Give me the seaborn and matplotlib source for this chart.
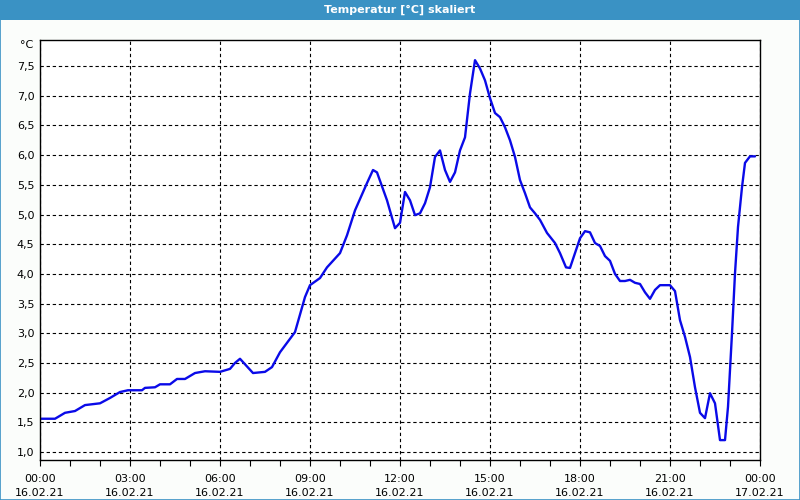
import matplotlib
matplotlib.use("Agg")
import matplotlib.pyplot as plt
import matplotlib.patches as mpatches
import matplotlib.ticker as mticker
import seaborn as sns
import pandas as pd
import numpy as np

# --- data ---
minutes = [0, 30, 50, 70, 90, 120, 140, 160, 176, 204, 210, 230, 240, 260, 274, 290,
           310, 330, 360, 380, 390, 400, 426, 450, 464, 480, 510, 530, 540, 560, 574,
           600, 614, 630, 654, 666, 674, 694, 710, 720, 730, 740, 750, 760, 770, 780,
           790, 800, 810, 820, 830, 840, 850, 860, 870, 880, 890, 900, 910, 920, 930,
           940, 950, 960, 970, 980, 990, 1000, 1014, 1030, 1040, 1052, 1060, 1070,
           1080, 1090, 1100, 1110, 1120, 1130, 1140, 1150, 1160, 1170, 1180, 1190,
           1200, 1210, 1220, 1230, 1240, 1260, 1270, 1280, 1290, 1300, 1310, 1320,
           1330, 1340, 1350, 1360, 1370, 1376, 1384, 1390, 1396, 1404, 1410, 1420, 1430]
temps = [1.56, 1.56, 1.66, 1.69, 1.79, 1.82, 1.91, 2.01, 2.04, 2.04, 2.08, 2.09, 2.14,
         2.14, 2.23, 2.23, 2.33, 2.36, 2.35, 2.40, 2.50, 2.57, 2.33, 2.35, 2.43, 2.68,
         3.02, 3.61, 3.81, 3.93, 4.11, 4.35, 4.65, 5.07, 5.53, 5.75, 5.71, 5.24, 4.77,
         4.86, 5.38, 5.24, 4.99, 5.02, 5.19, 5.46, 5.97, 6.08, 5.75, 5.55, 5.71, 6.08,
         6.30, 7.04, 7.60, 7.46, 7.26, 6.96, 6.71, 6.64, 6.47, 6.25, 5.97, 5.58, 5.36,
         5.12, 5.02, 4.91, 4.69, 4.52, 4.35, 4.11, 4.10, 4.35, 4.60, 4.72, 4.70, 4.52,
         4.47, 4.30, 4.22, 4.00, 3.88, 3.88, 3.90, 3.85, 3.83, 3.69, 3.58, 3.73, 3.81,
         3.81, 3.71, 3.22, 2.94, 2.60, 2.09, 1.66, 1.57, 1.99, 1.82, 1.20, 1.20, 1.76,
         3.00, 4.01, 4.79, 5.46, 5.87, 5.98, 5.98]
tick_labels = ["00:00\n16.02.21", "03:00\n16.02.21", "06:00\n16.02.21", "09:00\n16.02.21",
               "12:00\n16.02.21", "15:00\n16.02.21", "18:00\n16.02.21", "21:00\n16.02.21",
               "00:00\n17.02.21"]
y_ticks = [1.0, 1.5, 2.0, 2.5, 3.0, 3.5, 4.0, 4.5, 5.0, 5.5, 6.0, 6.5, 7.0, 7.5]
title = "Temperatur [°C] skaliert"

df = pd.DataFrame({"hours": np.array(minutes) / 60.0, "temp": temps})

sns.set_style("white")
plt.rcParams["font.family"] = ["DejaVu Sans"]
plt.rcParams["text.color"] = "black"
plt.rcParams["xtick.color"] = "black"
plt.rcParams["ytick.color"] = "black"

frame_blue = "#3a92c4"
fig = plt.figure(figsize=(8, 5), dpi=100, facecolor="#fbfdfb")
ax = fig.add_axes([0.05, 0.08, 0.90, 0.84])
ax.set_facecolor("white")

sns.lineplot(data=df, x="hours", y="temp", ax=ax, color="#0a0ae8", linewidth=1.7)

ax.set_xlim(0, 24)
ax.set_ylim(0.865, 7.94)
ax.set_xticks(np.arange(0, 25, 3))
ax.set_xticklabels(tick_labels, fontsize=8, linespacing=1.55)
ax.xaxis.set_minor_locator(mticker.MultipleLocator(1))
ax.set_yticks(y_ticks)
ax.set_yticklabels([f"{v:.1f}".replace(".", ",") for v in y_ticks], fontsize=8)
ax.tick_params(axis="x", which="both", direction="out", length=4, width=0.8,
               color="black", labelcolor="black", bottom=True, pad=6)
ax.tick_params(axis="y", which="both", length=0, pad=4, labelcolor="black")
ax.set_xlabel("")
ax.set_ylabel("")
ax.grid(True, which="major", color="black", linestyle=(0, (3, 2.5)), linewidth=0.8)
for s in ax.spines.values():
    s.set_visible(True)
    s.set_color("black")
    s.set_linewidth(1.0)

ax.text(-0.01, 1.0, "°C", transform=ax.transAxes, ha="right", va="top", fontsize=8,
        color="black")

# title bar
fig.patches.append(mpatches.Rectangle((0, 0.96), 1, 0.04, transform=fig.transFigure,
                                      facecolor=frame_blue, edgecolor="none", zorder=0))
fig.text(0.5, 0.98, title, color="white", ha="center", va="center",
         fontsize=8, fontweight="bold")
# frame
fig.patches.append(mpatches.Rectangle((0.0006, 0.001), 0.9988, 0.998,
                                      transform=fig.transFigure, facecolor="none",
                                      edgecolor=frame_blue, linewidth=1.2, zorder=5))

fig.savefig("out.png", dpi=100, facecolor=fig.get_facecolor())
